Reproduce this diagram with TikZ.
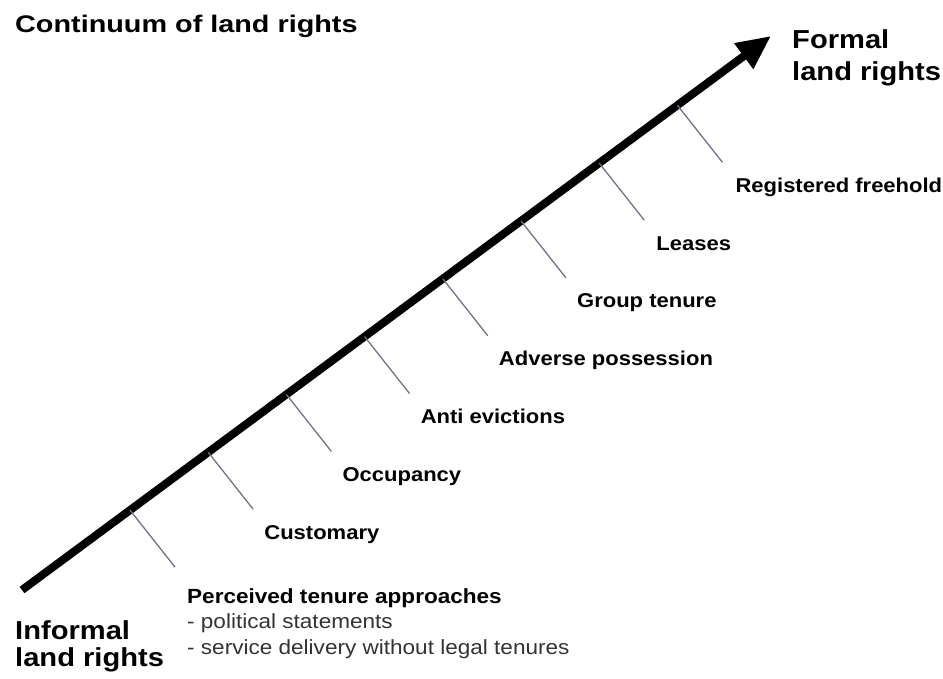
\documentclass[tikz,border=0pt]{standalone}
\usepackage{fontspec}
\setmainfont{Liberation Sans}
\newfontfamily\labfont[FakeStretch=1.1]{Liberation Sans}
\newfontfamily\bigfont[FakeStretch=1.12]{Liberation Sans}
\newfontfamily\titfont[FakeStretch=1.2]{Liberation Sans}
\usetikzlibrary{calc}
\usetikzlibrary{positioning}
\usetikzlibrary{arrows.meta}
\definecolor{tickgray}{RGB}{120,110,135}
\tikzset{
    tickline/.style={
        draw=tickgray,    % colour of the small lines
        line width=1.3    % thin
    },
    ticklabel/.style={
        anchor=base west,
        inner sep=0,
        font=\labfont\bfseries\fontsize{20}{24}\selectfont
    },
    sublabel/.style={
        anchor=base west,
        inner sep=0,
        text=black!80,
        font=\labfont\fontsize{20.5}{24}\selectfont
    },
    biglabel/.style={
        anchor=base west,
        inner sep=0,
        font=\bigfont\bfseries\fontsize{26}{32}\selectfont
    }
}

\begin{document}
\begin{tikzpicture}[x=1pt, y=-1pt]

\useasboundingbox (0,0) rectangle (943,679);

\def\Lx{45}
\def\Ly{57}
% main arrow
\coordinate (A0) at (22,590);
\coordinate (A1) at (771,36);
\draw[line width=8, -{Triangle[length=34,width=30]}] (A0) -- (A1);

% points on the arrow
\coordinate (T1) at ($(A0)!0.1442!(A1)$);
\coordinate (T2) at ($(A0)!0.2486!(A1)$);
\coordinate (T3) at ($(A0)!0.3530!(A1)$);
\coordinate (T4) at ($(A0)!0.4574!(A1)$);
\coordinate (T5) at ($(A0)!0.5618!(A1)$);
\coordinate (T6) at ($(A0)!0.6662!(A1)$);
\coordinate (T7) at ($(A0)!0.7706!(A1)$);
\coordinate (T8) at ($(A0)!0.8750!(A1)$);

% ends of the small lines
\coordinate (E1) at ($(T1)+(\Lx,\Ly)$);
\coordinate (E2) at ($(T2)+(\Lx,\Ly)$);
\coordinate (E3) at ($(T3)+(\Lx,\Ly)$);
\coordinate (E4) at ($(T4)+(\Lx,\Ly)$);
\coordinate (E5) at ($(T5)+(\Lx,\Ly)$);
\coordinate (E6) at ($(T6)+(\Lx,\Ly)$);
\coordinate (E7) at ($(T7)+(\Lx,\Ly)$);
\coordinate (E8) at ($(T8)+(\Lx,\Ly)$);

\draw[tickline] (T1) -- (E1);
\draw[tickline] (T2) -- (E2);
\draw[tickline] (T3) -- (E3);
\draw[tickline] (T4) -- (E4);
\draw[tickline] (T5) -- (E5);
\draw[tickline] (T6) -- (E6);
\draw[tickline] (T7) -- (E7);
\draw[tickline] (T8) -- (E8);

% labels
\node[ticklabel, font=\labfont\bfseries\fontsize{20.5}{24}\selectfont]
    (L1) at ($(E1)+(12,36)$) {Perceived tenure approaches};
\node[sublabel] (S1) at ($(E1)+(12,61)$) {- political statements};
\node[sublabel] (S2) at ($(E1)+(12,87)$) {- service delivery without legal tenures};
\node[ticklabel] (L2) at ($(E2)+(11,30)$) {Customary};
\node[ticklabel] (L3) at ($(E3)+(11,30)$) {Occupancy};
\node[ticklabel] (L4) at ($(E4)+(11,30)$) {Anti evictions};
\node[ticklabel] (L5) at ($(E5)+(11,30)$) {Adverse possession};
\node[ticklabel] (L6) at ($(E6)+(11,30)$) {Group tenure};
\node[ticklabel] (L7) at ($(E7)+(12,30)$) {Leases};
\node[ticklabel] (L8) at ($(E8)+(13,30)$) {Registered freehold};

\node[anchor=base west, inner sep=0, font=\titfont\bfseries\fontsize{24}{28}\selectfont]
    (title) at (15,33) {Continuum of land rights};
\node[biglabel] (F1) at (792,49) {Formal};
\node[biglabel] (F2) at (792,81) {land rights};
\node[biglabel] (I1) at (15,639) {Informal};
\node[biglabel] (I2) at (15,666) {land rights};

\end{tikzpicture}
\end{document}
